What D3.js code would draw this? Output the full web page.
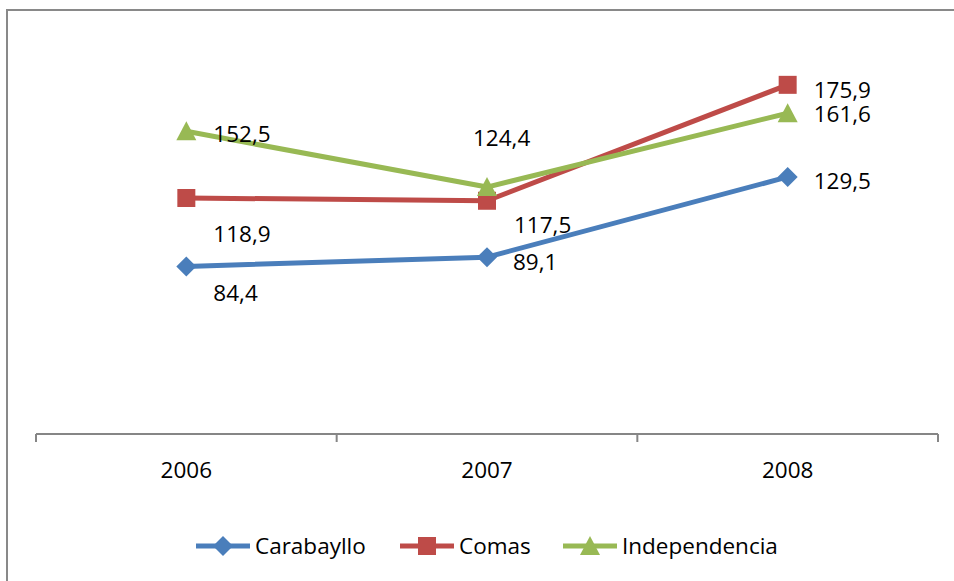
<!DOCTYPE html>
<html>
<head>
<meta charset="utf-8">
<script src="https://cdn.jsdelivr.net/npm/d3@7"></script>
<style>
  body { margin: 0; background: #fff; }
  text { font-family: "Open Sans", sans-serif; fill: #000; }
</style>
</head>
<body>
<div id="chart"></div>
<script>
let years = ["2006", "2007", "2008"];
let names = ["Carabayllo", "Comas", "Independencia"];
let carabayllo = [84.4, 89.1, 129.5];
let comas = [118.9, 117.5, 175.9];
let independencia = [152.5, 124.4, 161.6];

let colors = ["#4a7ebb", "#be4b48", "#98b954"];
let markers = ["diamond", "square", "triangle"];
// where each value label sits, relative to its point
let label_dx = [[27, 26, 26], [27, 27, 26], [27, -14, 26]];
let label_dy = [[26, 5, 4], [36, 24, 5], [3, -49, 1]];

let series = [carabayllo, comas, independencia].map((v, i) => ({name: names[i], values: v, color: colors[i], marker: markers[i], i: i}));

let svg = d3.select("#chart").append("svg")
  .attr("width", 954)
  .attr("height", 581);

// chart area border (cut off at right and bottom)
svg.append("rect")
  .attr("x", 7).attr("y", 10)
  .attr("width", 1200).attr("height", 1200)
  .attr("fill", "#fff")
  .attr("stroke", "#898989")
  .attr("stroke-width", 2);

let x = d3.scaleBand().domain(years).range([36, 938]);
let y = d3.scaleLinear().domain([0, 200]).range([434, 37]);

// x axis
let axis_g = svg.append("g");
axis_g.append("line")
  .attr("x1", x.range()[0]).attr("x2", x.range()[1])
  .attr("y1", y(0)).attr("y2", y(0))
  .attr("stroke", "#868686").attr("stroke-width", 2);
axis_g.selectAll(".tick_mark")
  .data(years.map(d => x(d)).concat([x.range()[1]]))
  .join("line")
  .attr("x1", d => d).attr("x2", d => d)
  .attr("y1", y(0)).attr("y2", y(0) + 8)
  .attr("stroke", "#868686").attr("stroke-width", 2);

let xaxis = svg.append("g")
  .attr("transform", `translate(0,${y(0)})`)
  .call(d3.axisBottom(x).tickSize(0).tickPadding(28));
xaxis.select(".domain").remove();
xaxis.selectAll("text")
  .style("font-size", "22.5px")
  .attr("dy", "0.71em")
  .attr("fill", "#000");

let line = d3.line()
  .x((d, i) => x(years[i]) + x.bandwidth() / 2)
  .y(d => y(d));

function marker_path(type) {
  if (type == "diamond") return "M0,-10L10,0L0,10L-10,0Z";
  if (type == "square") return "M-9,-9H9V9H-9Z";
  return "M0,-10L10,9H-10Z";
}

let plot = svg.append("g");
series.forEach(function(s) {
  let g = plot.append("g");
  g.append("path")
    .attr("d", line(s.values))
    .attr("fill", "none")
    .attr("stroke", s.color)
    .attr("stroke-width", 5)
    .attr("stroke-linejoin", "round");
  g.selectAll("path.mk")
    .data(s.values)
    .join("path")
    .attr("class", "mk")
    .attr("d", marker_path(s.marker))
    .attr("transform", (d, i) => `translate(${x(years[i]) + x.bandwidth() / 2},${y(d)})`)
    .attr("fill", s.color);
});

let labels = svg.append("g").style("font-size", "22.5px");
series.forEach(function(s) {
  labels.selectAll("text.s" + s.i)
    .data(s.values)
    .join("text")
    .attr("class", "s" + s.i)
    .attr("x", (d, i) => x(years[i]) + x.bandwidth() / 2 + label_dx[s.i][i])
    .attr("y", (d, i) => y(d) + label_dy[s.i][i])
    .attr("dy", "0.36em")
    .text(d => d3.format(".1f")(d).replace(".", ","));
});

// legend
let legend_x = [196, 400, 563];
let legend = svg.append("g").attr("transform", "translate(0,546)");
series.forEach(function(s, i) {
  let g = legend.append("g").attr("transform", `translate(${legend_x[i]},0)`);
  g.append("line")
    .attr("x1", 0).attr("x2", 54)
    .attr("stroke", s.color).attr("stroke-width", 5);
  g.append("path")
    .attr("d", marker_path(s.marker))
    .attr("transform", "translate(27,0)")
    .attr("fill", s.color);
  g.append("text")
    .attr("x", 59)
    .attr("dy", "0.36em")
    .style("font-size", "22.5px")
    .text(s.name);
});
</script>
</body>
</html>
